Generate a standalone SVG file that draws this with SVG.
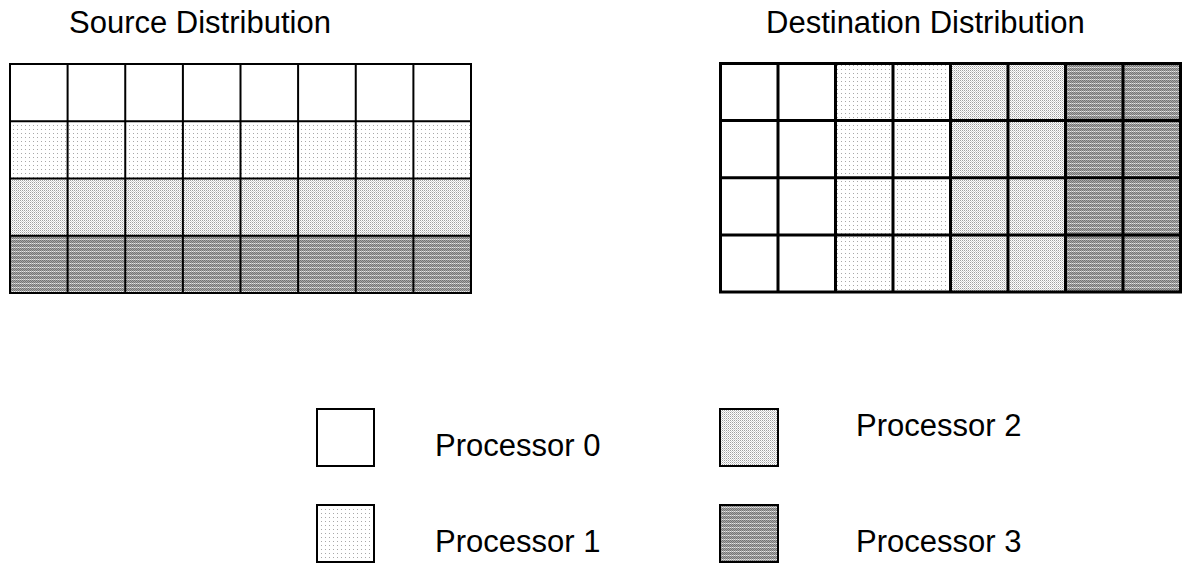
<svg xmlns="http://www.w3.org/2000/svg" width="1183" height="565" viewBox="0 0 1183 565">
  <style>
    text { font-family: "Liberation Sans", Arial, sans-serif; font-size: 31px; fill: #000; }
    .src { stroke: #000; stroke-width: 2; }
    .dst { stroke: #000; stroke-width: 3; }
    .box { stroke: #000; stroke-width: 2; }
    .p0 { fill: #fff; }
    .p1 { fill: url(#pat1); }
    .p2 { fill: url(#pat2); }
    .p3 { fill: url(#pat3); }
  </style>
  <defs>
    <pattern id="pat1" patternUnits="userSpaceOnUse" x="0" y="0" width="4" height="4">
      <rect width="4" height="4" fill="#fff"/>
      <rect x="1" y="1" width="1" height="1" fill="#a8a8a8"/>
    </pattern>
    <pattern id="pat2" patternUnits="userSpaceOnUse" x="0" y="0" width="2" height="2">
      <rect width="2" height="2" fill="#fff"/>
      <rect x="0" y="0" width="1" height="1" fill="#a0a0a0"/>
      <rect x="1" y="1" width="1" height="1" fill="#d0d0d0"/>
    </pattern>
    <pattern id="pat3" patternUnits="userSpaceOnUse" x="0" y="0" width="4" height="4">
      <rect width="4" height="4" fill="#a8a8a8"/>
      <rect x="0" y="0" width="1" height="1" fill="#747474"/>
      <rect x="2" y="0" width="1" height="1" fill="#747474"/>
      <rect x="1" y="1" width="1" height="1" fill="#747474"/>
      <rect x="3" y="1" width="1" height="1" fill="#747474"/>
      <rect x="0" y="2" width="1" height="1" fill="#747474"/>
      <rect x="2" y="2" width="1" height="1" fill="#747474"/>
      <rect x="0" y="3" width="1" height="1" fill="#e8e8e8"/>
      <rect x="2" y="3" width="1" height="1" fill="#e8e8e8"/>
    </pattern>
  </defs>

  <g id="source-title"><text x="69" y="33">Source Distribution</text></g>
  <g id="dest-title"><text x="766" y="33">Destination Distribution</text></g>

  <g id="source-grid">
    <rect class="p0" x="10" y="64" width="461" height="57.25"/>
    <rect class="p1" x="10" y="121.25" width="461" height="57.25"/>
    <rect class="p2" x="10" y="178.5" width="461" height="57.25"/>
    <rect class="p3" x="10" y="235.75" width="461" height="57.25"/>
    <g class="src" fill="none">
      <rect x="10" y="64" width="461" height="229"/>
      <path d="M10 121.25H471M10 178.5H471M10 235.75H471"/>
      <path d="M67.6 64V293M125.25 64V293M182.9 64V293M240.5 64V293M298.1 64V293M355.75 64V293M413.4 64V293"/>
    </g>
  </g>

  <g id="dest-grid">
    <rect class="p0" x="720.5" y="63.5" width="115" height="228.5"/>
    <rect class="p1" x="835.5" y="63.5" width="115" height="228.5"/>
    <rect class="p2" x="950.5" y="63.5" width="115" height="228.5"/>
    <rect class="p3" x="1065.5" y="63.5" width="115" height="228.5"/>
    <g class="dst" fill="none">
      <rect x="720.5" y="63.5" width="460" height="228.5"/>
      <path d="M720.5 120.6H1180.5M720.5 177.75H1180.5M720.5 234.9H1180.5"/>
      <path d="M778 63.5V292M835.5 63.5V292M893 63.5V292M950.5 63.5V292M1008 63.5V292M1065.5 63.5V292M1123 63.5V292"/>
    </g>
  </g>

  <g id="legend-p0">
    <rect class="p0 box" x="317" y="409" width="57" height="57"/>
    <text x="435" y="456">Processor 0</text>
  </g>
  <g id="legend-p1">
    <rect class="p1 box" x="317" y="505" width="57" height="57"/>
    <text x="435" y="552">Processor 1</text>
  </g>
  <g id="legend-p2">
    <rect class="p2 box" x="720" y="409" width="58" height="57"/>
    <text x="856" y="436">Processor 2</text>
  </g>
  <g id="legend-p3">
    <rect class="p3 box" x="720" y="505" width="58" height="57"/>
    <text x="856" y="552">Processor 3</text>
  </g>
</svg>
